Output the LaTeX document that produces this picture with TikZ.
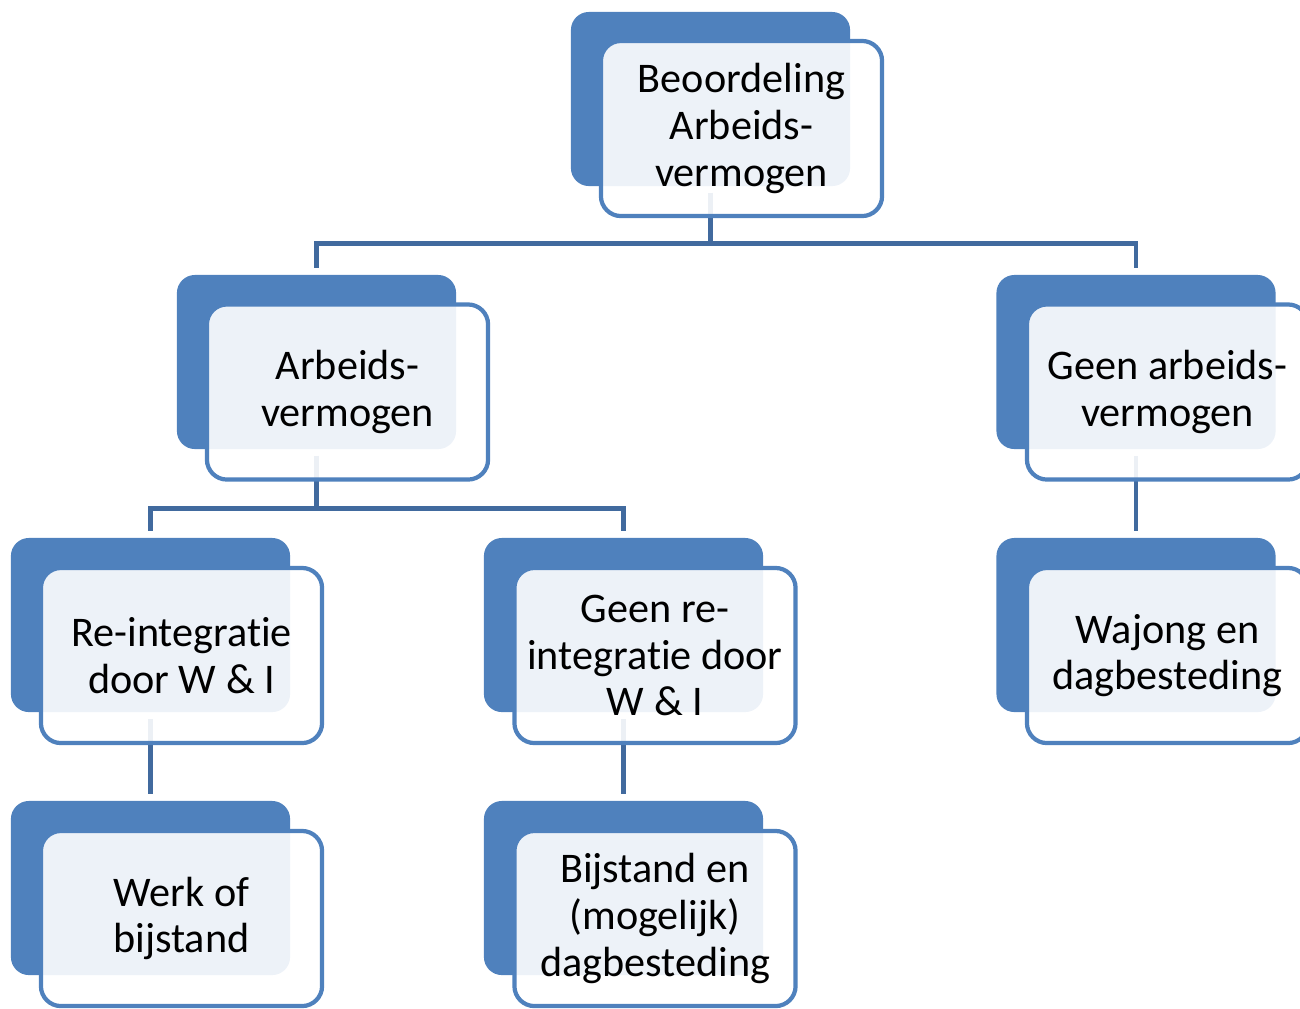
\documentclass[tikz,border=0pt]{standalone}
\usepackage{fontspec}
\setmainfont[Ligatures=NoCommon]{Carlito}
\usetikzlibrary{backgrounds}
\definecolor{kaartblauw}{RGB}{79,129,189}
\definecolor{lijnblauw}{RGB}{65,106,158}
\begin{document}
\begin{tikzpicture}[x=0.01cm,y=-0.01cm,
  achter/.style={fill=kaartblauw,rounded corners=0.18cm,minimum width=2.79cm,minimum height=1.74cm,inner sep=0pt},
  voor/.style={draw=kaartblauw,line width=1.2pt,fill=white,fill opacity=0.9,text opacity=1,rounded corners=0.2cm,minimum width=2.81cm,minimum height=1.75cm,inner sep=0pt,align=center,font=\fontsize{12}{13.3}\selectfont},
  lijn/.style={draw=lijnblauw,line width=1.4pt,shorten <=0.06cm,shorten >=0.06cm}]
\useasboundingbox (0,0) rectangle (1300,1008);
% achterste kaarten
\node[achter] (beo) at (710.5,99) {};
\node[achter] (arb) at (316.5,362) {};
\node[achter] (geen) at (1136,362) {};
\node[achter] (reint) at (150.5,625) {};
\node[achter] (geenre) at (623.5,625) {};
\node[achter] (wajong) at (1136,625) {};
\node[achter] (werk) at (150.5,888) {};
\node[achter] (bijst) at (623.5,888) {};
% voorste kaarten met tekst
\node[voor] (beo-t) at (741.5,128.5) {Beoordeling\\Arbeids-\\vermogen};
\node[voor] (arb-t) at (347.5,392) {Arbeids-\\vermogen};
\node[voor] (geen-t) at (1167.5,392) {Geen arbeids-\\vermogen};
\node[voor] (reint-t) at (181.5,655.5) {Re-integratie\\door W \& I};
\node[voor] (geenre-t) at (655,655.5) {Geen re-\\integratie door\\W \& I};
\node[voor] (wajong-t) at (1167.5,655.5) {Wajong en\\dagbesteding};
\node[voor] (werk-t) at (181.5,918.5) {Werk of\\bijstand};
\node[voor] (bijst-t) at (655,918.5) {Bijstand en\\(mogelijk)\\dagbesteding};
% verbindingen
\begin{pgfonlayer}{background}
\draw[lijn] (beo.south) -- ++(0,57) -| (arb.north);
\draw[lijn] (beo.south) -- ++(0,57) -| (geen.north);
\draw[lijn] (arb.south) -- ++(0,59) -| (reint.north);
\draw[lijn] (arb.south) -- ++(0,59) -| (geenre.north);
\draw[lijn] (geen) -- (wajong);
\draw[lijn] (reint) -- (werk);
\draw[lijn] (geenre) -- (bijst);
\end{pgfonlayer}
\end{tikzpicture}
\end{document}
